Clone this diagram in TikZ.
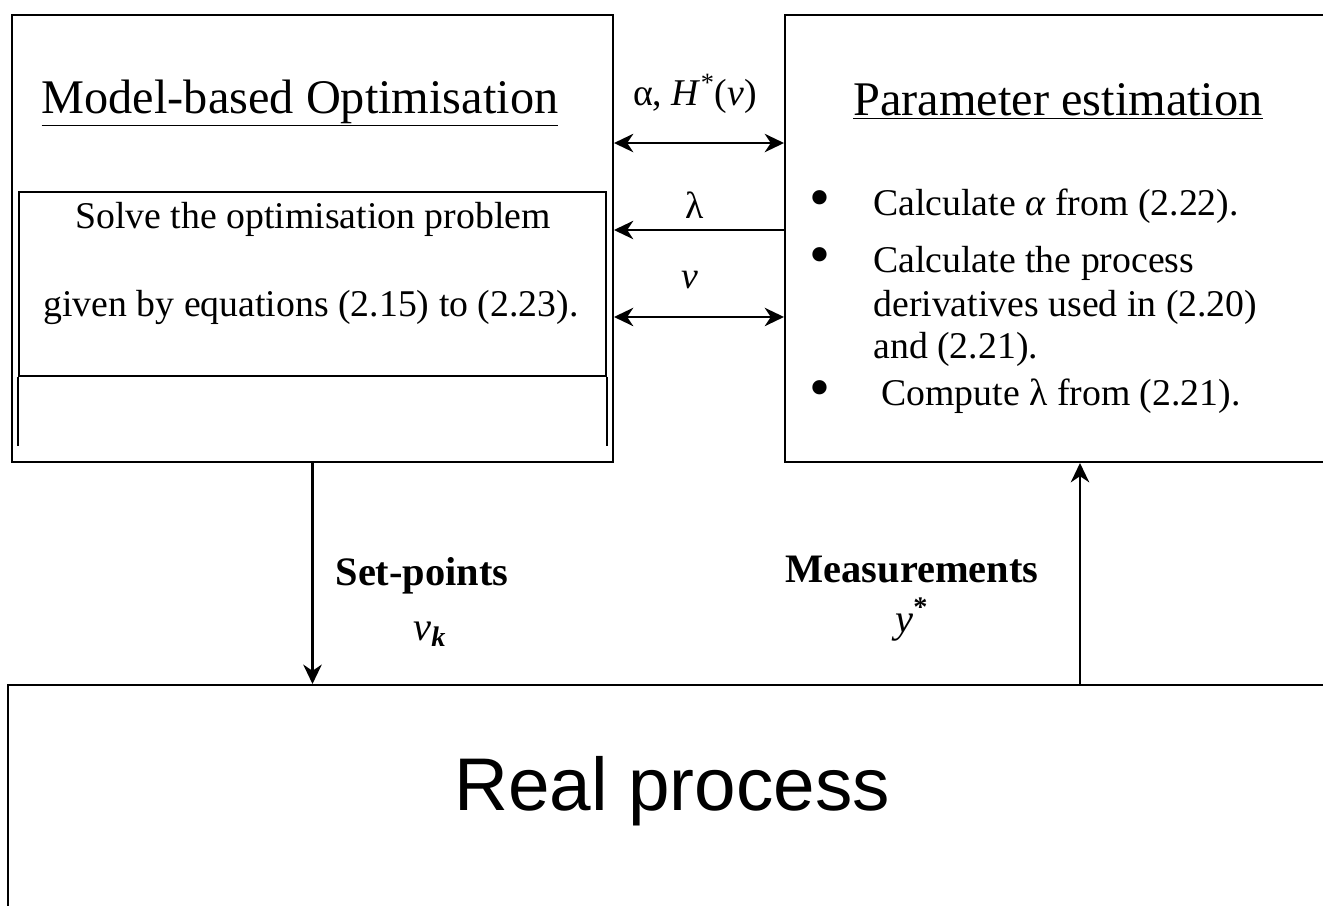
\documentclass[tikz,border=0pt]{standalone}
\usepackage{fontspec}
\setmainfont{Liberation Serif}
\newfontfamily\arialfont{Liberation Sans}
\usetikzlibrary{arrows.meta}

\begin{document}
\begin{tikzpicture}[
x=0.02cm, y=-0.02cm,
>={Stealth[length=11pt,width=10.5pt,inset=3.5pt]},
box/.style={draw, line width=1.2pt, inner sep=0pt},
link/.style={draw, line width=1.3pt},
txt/.style={anchor=base, inner sep=0pt, font=\fontsize{21.5}{24}\selectfont},
head/.style={anchor=base, inner sep=0pt, font=\fontsize{27.5}{30}\selectfont},
sig/.style={anchor=base, inner sep=0pt, font=\fontsize{23}{26}\selectfont\bfseries},
]
\useasboundingbox (0,0) rectangle (1323,906);

% boxes
\node[box, minimum width=12.02cm, minimum height=8.94cm] (opt) at (312.5,238.5) {};
\node[box, minimum width=11.8cm, minimum height=8.94cm] (est) at (1080,238.5) {};
\node[box, line width=1pt, minimum width=11.74cm, minimum height=3.68cm] (solve) at (312.5,284) {};
\node[box, minimum width=27.84cm, minimum height=5.3cm] (real) at (704,817.5) {};

% titles and texts
\node[head] (optT) at (300,113) {\underline{Model-based Optimisation}};
\node[head] (estT) at (1058,115) {\underline{Parameter estimation}};
\node[txt] (s1) at (313,228) {Solve the optimisation problem};
\node[txt] (s2) at (311,316) {given by equations (2.15) to (2.23).};

\foreach \y/\n in {217/b1, 274/b2, 407/b3}
  \node[txt, font=\fontsize{34}{34}\selectfont] (\n) at (820,\y) {\textbullet};
\node[txt, anchor=base west] (p1) at (873,215) {Calculate \textit{α} from (2.22).};
\node[txt, anchor=base west] (p2) at (873,272) {Calculate the process};
\node[txt, anchor=base west] (p3) at (873,316) {derivatives used in (2.20)};
\node[txt, anchor=base west] (p4) at (873,358) {and (2.21).};
\node[txt, anchor=base west] (p5) at (881,405) {Compute λ from (2.21).};

% signal labels
\node[txt] (la) at (695,105) {α, \textit{H}\textsuperscript{*}(\textit{v})};
\node[txt] (ll) at (695,218) {λ};
\node[txt] (lv) at (690,288) {\textit{v}};
\node[sig] (sp) at (422,585) {Set-points};
\node[sig] (vk) at (430,640) {{\mdseries\itshape v}\textsubscript{\itshape k}};
\node[sig] (ms) at (912,582) {Measurements};
\node[sig] (ys) at (912,632) {{\mdseries\itshape y}\textsuperscript{*}};
\node[anchor=base, inner sep=0pt, font=\arialfont\fontsize{42.5}{48}\selectfont] (rp) at (672,810) {Real process};

\path[every edge/.style=link]
([yshift=1.91cm]opt.east) edge[<->] ([yshift=1.91cm]est.west)
([yshift=0.17cm]est.west) edge[->] ([yshift=0.17cm]opt.east)
([yshift=-1.57cm]opt.east) edge[<->] ([yshift=-1.57cm]est.west)
(opt.south) edge[->] (opt.south |- real.north)
(real.north -| est.south) edge[->] (est.south)
(solve.south west) edge ([yshift=-1.38cm]solve.south west)
(solve.south east) edge ([yshift=-1.38cm]solve.south east)
;
\end{tikzpicture}
\end{document}
